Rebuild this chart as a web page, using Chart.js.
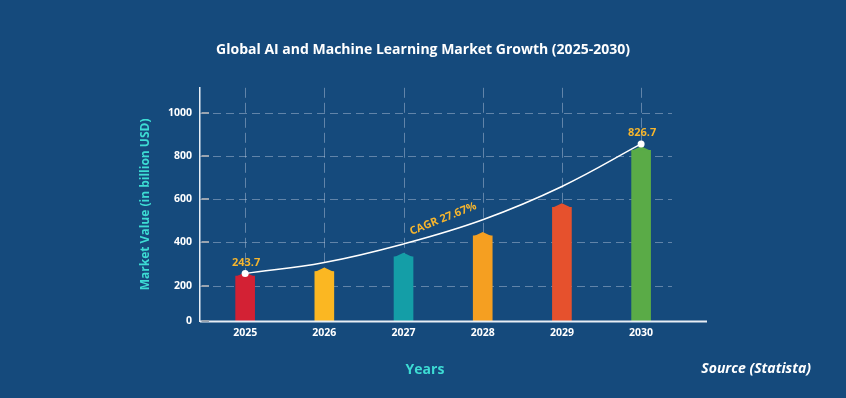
<!DOCTYPE html>
<html>
<head>
<meta charset="utf-8">
<script src="https://cdn.jsdelivr.net/npm/chart.js@4.4.1/dist/chart.umd.min.js"></script>
<style>
  html, body { margin: 0; padding: 0; background: #154a7c; }
  #wrap { width: 846px; height: 398px; position: relative; }
</style>
</head>
<body>
<div id="wrap"><canvas id="c" width="846" height="398"></canvas></div>
<script>
// ---- data ----
const years = [2025, 2026, 2027, 2028, 2029, 2030];
const marketValues = [243.7, 265, 333, 430, 563, 826.7];
const cagrCurve = [256, 307, 393, 505, 659, 856];
const barColors = ['#d32134', '#fbb722', '#149ea7', '#f59f21', '#e6512d', '#5aab47'];
const yTickValues = [36, 200, 400, 600, 800, 1000];
const yTickLabels = ['0', '200', '400', '600', '800', '1000'];
const endLabels = ['243.7', '', '', '', '', '826.7'];
const cagrText = 'CAGR 27.67%';

const FONT = '"Open Sans", "Noto Sans", sans-serif';
const ORANGE = '#f5b52e';
const CYAN = '#3ddcd4';

const decorPlugin = {
  id: 'decor',
  beforeDatasetsDraw(chart) {
    const {ctx, chartArea, scales: {x, y}} = chart;
    ctx.save();
    ctx.strokeStyle = 'rgba(190,205,225,0.45)';
    ctx.lineWidth = 1;
    ctx.setLineDash([8, 5]);
    y.ticks.forEach((t, i) => {
      if (i === 0) return;
      const py = Math.round(y.getPixelForValue(t.value)) + 0.5;
      ctx.beginPath();
      ctx.moveTo(chartArea.left, py);
      ctx.lineTo(chartArea.right, py);
      ctx.stroke();
    });
    ctx.setLineDash([10, 5]);
    years.forEach(v => {
      const px = Math.round(x.getPixelForValue(v)) + 0.5;
      ctx.beginPath();
      ctx.moveTo(px, chartArea.top);
      ctx.lineTo(px, chartArea.bottom);
      ctx.stroke();
    });
    ctx.restore();
  },
  afterDatasetDraw(chart, args) {
    const {ctx} = chart;
    if (args.index === 0) {
      const meta = chart.getDatasetMeta(0);
      meta.data.forEach((bar, i) => {
        const w = bar.width;
        ctx.save();
        ctx.fillStyle = barColors[i];
        ctx.beginPath();
        ctx.moveTo(bar.x - w / 2, bar.y + 0.5);
        ctx.lineTo(bar.x, bar.y - 4);
        ctx.lineTo(bar.x + w / 2, bar.y + 0.5);
        ctx.closePath();
        ctx.fill();
        ctx.restore();
      });
    }
  },
  afterDatasetsDraw(chart) {
    const {ctx, chartArea, scales: {y}} = chart;
    ctx.save();
    ctx.strokeStyle = '#e8eef5';
    ctx.lineWidth = 2;
    ctx.beginPath();
    ctx.moveTo(chartArea.left, chartArea.bottom + 0.5);
    ctx.lineTo(chartArea.right + 35, chartArea.bottom + 0.5);
    ctx.stroke();
    ctx.strokeStyle = '#9aa4b0';
    ctx.lineWidth = 2;
    y.ticks.forEach(t => {
      const py = Math.round(y.getPixelForValue(t.value));
      ctx.beginPath();
      ctx.moveTo(chartArea.left + 1.5, py);
      ctx.lineTo(chartArea.left + 9, py);
      ctx.stroke();
    });
    const lineMeta = chart.getDatasetMeta(1);
    ctx.fillStyle = ORANGE;
    ctx.font = 'bold 11px ' + FONT;
    ctx.textAlign = 'center';
    ctx.textBaseline = 'middle';
    lineMeta.data.forEach((p, i) => {
      if (endLabels[i]) ctx.fillText(endLabels[i], p.x + 1, p.y - 11);
    });
    const p2 = lineMeta.data[2], p3 = lineMeta.data[3];
    const mx = (p2.x + p3.x) / 2, my = (p2.y + p3.y) / 2;
    ctx.translate(mx, my - 13);
    ctx.rotate(-22 * Math.PI / 180);
    ctx.font = 'bold 11px ' + FONT;
    ctx.fillText(cagrText, 0, 0);
    ctx.restore();

    ctx.save();
    ctx.textBaseline = 'middle';
    ctx.textAlign = 'center';
    ctx.fillStyle = CYAN;
    ctx.font = 'bold 14px ' + FONT;
    ctx.fillText('Years', 425, 370);
    ctx.fillStyle = '#ffffff';
    ctx.textAlign = 'right';
    ctx.font = 'italic bold 14px ' + FONT;
    ctx.fillText('Source (Statista)', 811, 369);
    ctx.restore();
  }
};

new Chart(document.getElementById('c'), {
  data: {
    datasets: [
      {
        type: 'bar',
        data: years.map((yr, i) => ({x: yr, y: marketValues[i]})),
        backgroundColor: barColors,
        borderWidth: 0,
        barThickness: 19,
        order: 2
      },
      {
        type: 'line',
        data: years.map((yr, i) => ({x: yr, y: cagrCurve[i]})),
        borderColor: '#ffffff',
        borderWidth: 1.5,
        tension: 0.4,
        pointRadius: years.map((_, i) => (i === 0 || i === years.length - 1) ? 3.5 : 0),
        pointBackgroundColor: '#ffffff',
        pointBorderWidth: 0,
        order: 1
      }
    ]
  },
  options: {
    responsive: false,
    animation: false,
    layout: { padding: 0 },
    plugins: {
      legend: { display: false },
      tooltip: { enabled: false },
      title: {
        display: true,
        text: 'Global AI and Machine Learning Market Growth (2025-2030)',
        color: '#ffffff',
        font: { family: FONT, size: 14, weight: 'bold' },
        padding: { top: 42, bottom: 29 }
      }
    },
    scales: {
      x: {
        type: 'linear',
        offset: false,
        min: 2024.43,
        max: 2030.39,
        afterBuildTicks: s => { s.ticks = years.map(v => ({value: v})); },
        afterFit: s => { s.height = 77; },
        grid: { display: false, drawTicks: false, offset: false },
        border: { display: false },
        ticks: {
          color: '#ffffff',
          padding: 6,
          font: { family: FONT, size: 10.5, weight: 'bold' },
          callback: v => String(v)
        }
      },
      y: {
        type: 'linear',
        position: 'left',
        min: 36,
        max: 1116,
        afterBuildTicks: s => { s.ticks = yTickValues.map(v => ({value: v})); },
        afterFit: s => { s.width = 200; },
        grid: { display: false, drawTicks: false },
        border: { display: true, color: '#e8eef5', width: 1.5 },
        ticks: {
          color: '#ffffff',
          padding: 8,
          font: { family: FONT, size: 10.5, weight: 'bold' },
          callback: v => yTickLabels[yTickValues.indexOf(v)]
        },
        title: {
          display: true,
          text: 'Market Value (in billion USD)',
          color: CYAN,
          font: { family: FONT, size: 12, weight: 'bold' },
          padding: { top: 138, bottom: 0 }
        }
      },
      yRight: {
        type: 'linear',
        position: 'right',
        min: 36,
        max: 1116,
        afterFit: s => { s.width = 174; },
        grid: { display: false, drawTicks: false },
        border: { display: false },
        ticks: { display: false }
      }
    }
  },
  plugins: [decorPlugin]
});
</script>
</body>
</html>
